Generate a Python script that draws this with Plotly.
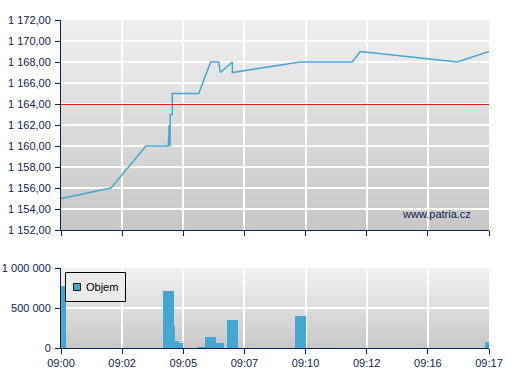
import plotly.graph_objects as go

# ---- data ----
tick_pos = [0, 1, 2, 3, 4, 5, 6, 7]
tick_labels = ["09:00", "09:02", "09:05", "09:07", "09:10", "09:12", "09:16", "09:17"]

price_x = [0, 0.818, 1.39, 1.755, 1.77, 1.785, 1.785, 1.82, 1.82, 2.252, 2.448, 2.579,
           2.605, 2.802, 2.802, 3.909, 4.764, 4.895, 6.482, 7.0]
price_y = [1155, 1156, 1160, 1160, 1162, 1160, 1163, 1163, 1165, 1165, 1168, 1168,
           1167, 1168, 1167, 1168, 1168, 1169, 1168, 1169]
ref_price = 1164

vol_start = [0, 1.668, 1.848, 1.865, 1.930, 2.219, 2.355, 2.535, 2.715, 3.827, 6.935]
vol_end = [0.077, 1.848, 1.865, 1.930, 1.990, 2.355, 2.535, 2.666, 2.895, 4.007, 7.0]
volume = [780000, 715000, 280000, 90000, 65000, 12000, 140000, 65000, 350000, 400000, 75000]
series_name = "Objem"

# ---- styling ----
NAVY = "#0b2353"
BLUE = "#45a7d0"
RED = "#e41c1c"
FONT = "Arial, Liberation Sans, sans-serif"

W, H = 507, 380
ml, mr, mt, mb = 61, 18, 20, 32
pw = W - ml - mr
ph = H - mt - mb
top_dom = [(348 - 230) / ph, 1.0]
bot_dom = [0.0, (348 - 268) / ph]


def px(x):
    return (x - ml) / pw


def py(y):
    return (H - mb - y) / ph


fig = go.Figure()

fig.add_trace(go.Scatter(x=price_x, y=price_y, mode="lines",
                         line=dict(color=BLUE, width=1.5), showlegend=False,
                         xaxis="x", yaxis="y"))

vx = [(a + b) / 2 for a, b in zip(vol_start, vol_end)]
vw = [b - a for a, b in zip(vol_start, vol_end)]
fig.add_trace(go.Bar(x=vx, y=volume, width=vw, name=series_name,
                     marker=dict(color=BLUE, line=dict(width=0)),
                     xaxis="x2", yaxis="y2", showlegend=False))

shapes = []


def bands(xref, yref, c0, c1, n=60):
    out = []
    for i in range(n):
        t = i / (n - 1)
        c = [round(c0[k] + (c1[k] - c0[k]) * t) for k in range(3)]
        out.append(dict(type="rect", xref=xref, yref=yref,
                        x0=0, x1=1, y0=max(0, 1 - (i + 1.6) / n), y1=1 - i / n,
                        fillcolor="rgb(%d,%d,%d)" % tuple(c),
                        line=dict(width=0), layer="below"))
    return out


shapes += bands("x domain", "y domain", (239, 239, 239), (199, 199, 199))
shapes += bands("x2 domain", "y2 domain", (241, 241, 241), (200, 200, 200))

# reference price line as a 1px filled strip anchored at the reference value
shapes.append(dict(type="rect", xref="x domain", yref="y", x0=0, x1=1,
                   ysizemode="pixel", yanchor=ref_price, y0=-1, y1=0,
                   fillcolor=RED, line=dict(width=0)))

# legend box (drawn manually for compact look)
shapes.append(dict(type="rect", xref="paper", yref="paper",
                   x0=px(65.5), x1=px(125.5), y0=py(301.5), y1=py(272.5),
                   fillcolor="rgba(235,235,235,0.9)", line=dict(color="black", width=1)))
shapes.append(dict(type="rect", xref="paper", yref="paper",
                   x0=px(73.5), x1=px(80.5), y0=py(290.5), y1=py(283.5),
                   fillcolor=BLUE, line=dict(color="#1a1a1a", width=1)))

axis_common = dict(showgrid=True, gridcolor="white", gridwidth=1.5,
                   showline=True, linecolor=NAVY, linewidth=1, ticks="outside",
                   ticklen=5, tickcolor=NAVY, zeroline=False, automargin=False)

fig.update_layout(
    width=W, height=H,
    margin=dict(l=ml, r=mr, t=mt, b=mb, pad=0),
    paper_bgcolor="white", plot_bgcolor="rgba(0,0,0,0)",
    separators=", ",
    font=dict(family=FONT, size=11, color=NAVY),
    shapes=shapes,
    bargap=0,
    showlegend=False,
    xaxis=dict(domain=[0, 1], anchor="y", range=[0, 7], tickvals=tick_pos,
               showticklabels=False, **axis_common),
    yaxis=dict(domain=top_dom, anchor="x", range=[1152, 1172], dtick=2, tick0=1152,
               tickformat=",.2f", ticklabelstandoff=2, **axis_common),
    xaxis2=dict(domain=[0, 1], anchor="y2", range=[0, 7], tickvals=tick_pos,
                ticktext=tick_labels, **axis_common),
    yaxis2=dict(domain=bot_dom, anchor="x2", range=[0, 1000000], dtick=500000,
                tickformat=",d", ticklabelstandoff=2, **axis_common),
    annotations=[
        dict(text="www.patria.cz", xref="x domain", yref="y domain",
             x=0.963, y=0.075, xanchor="right", yanchor="middle",
             showarrow=False, font=dict(family=FONT, size=11, color=NAVY)),
        dict(text=series_name, xref="paper", yref="paper",
             x=px(84), y=py(287), xanchor="left", yanchor="middle",
             showarrow=False, font=dict(family=FONT, size=11, color="black")),
    ],
)

fig.write_html("out.html")
